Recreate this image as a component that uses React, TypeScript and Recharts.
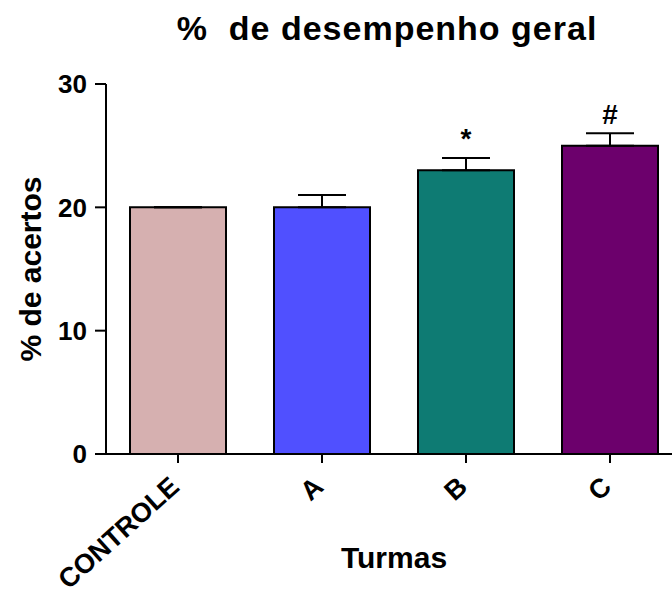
import { Bar, BarChart, Cell, ErrorBar, LabelList, Label, XAxis, YAxis } from "recharts"

const turmas = ["CONTROLE", "A", "B", "C"]
const acertos = [20, 20, 23, 25]
const erroSuperior = [0, 1, 1, 1]
const marcas = ["", "", "*", "#"]
const cores = ["#D6B0B0", "#5050FF", "#0E7B73", "#6C006C"]
const yTicks = [0, 10, 20, 30]

const font = '"Liberation Sans", Arial, sans-serif'

const data = turmas.map((turma, i) => ({
  turma,
  acertos: acertos[i],
  erro: [0, erroSuperior[i]],
  marca: marcas[i],
}))

function XTick(props: any) {
  const { x, y, payload } = props
  return (
    <g transform={`translate(${x + 3},${y + 24})`}>
      <text
        textAnchor="end"
        transform="rotate(-42)"
        fontFamily={font}
        fontWeight="bold"
        fontSize={27}
        fill="#000"
      >
        {payload.value}
      </text>
    </g>
  )
}

export default function App() {
  return (
    <div
      style={{
        position: "absolute",
        left: 0,
        top: 0,
        width: 672,
        height: 597,
        overflow: "hidden",
        background: "#fff",
      }}
    >
      <div
        style={{
          position: "absolute",
          left: 0,
          top: 11,
          width: 774,
          textAlign: "center",
          fontFamily: font,
          fontWeight: "bold",
          fontSize: 34,
          lineHeight: "34px",
          letterSpacing: 1,
          whiteSpace: "pre",
          color: "#000",
        }}
      >
        {"%  de desempenho geral"}
      </div>
      <BarChart
        width={690}
        height={597}
        data={data}
        margin={{ top: 84, right: 8, bottom: 0, left: 0 }}
        style={{ position: "absolute", left: 0, top: 0 }}
      >
        <XAxis
          dataKey="turma"
          stroke="#000"
          strokeWidth={2}
          tickSize={9}
          tickLine={{ stroke: "#000", strokeWidth: 2 }}
          tick={<XTick />}
          interval={0}
          height={143}
        >
          <Label
            content={({ viewBox }: any) => (
              <text
                x={viewBox.x + viewBox.width / 2}
                y={568}
                textAnchor="middle"
                fontFamily={font}
                fontWeight="bold"
                fontSize={30}
                fill="#000"
              >
                Turmas
              </text>
            )}
          />
        </XAxis>
        <YAxis
          domain={[0, 30]}
          ticks={yTicks}
          stroke="#000"
          strokeWidth={2}
          tickSize={11}
          tickMargin={8}
          tickLine={{ stroke: "#000", strokeWidth: 2 }}
          tick={{ fill: "#000", fontSize: 26, fontWeight: "bold", fontFamily: font }}
          width={106}
        >
          <Label
            content={({ viewBox }: any) => (
              <text
                transform={`translate(41,${viewBox.y + viewBox.height / 2}) rotate(-90)`}
                textAnchor="middle"
                fontFamily={font}
                fontWeight="bold"
                fontSize={30}
                fill="#000"
              >
                % de acertos
              </text>
            )}
          />
        </YAxis>
        <Bar dataKey="acertos" barSize={96} stroke="#000" strokeWidth={2} isAnimationActive={false}>
          {data.map((d, i) => (
            <Cell key={d.turma} fill={cores[i]} />
          ))}
          <ErrorBar dataKey="erro" direction="y" width={24} stroke="#000" strokeWidth={2} />
          <LabelList
            dataKey="marca"
            position="top"
            offset={22}
            fill="#000"
            fontFamily={font}
            fontWeight="bold"
            fontSize={28}
          />
        </Bar>
      </BarChart>
    </div>
  )
}
